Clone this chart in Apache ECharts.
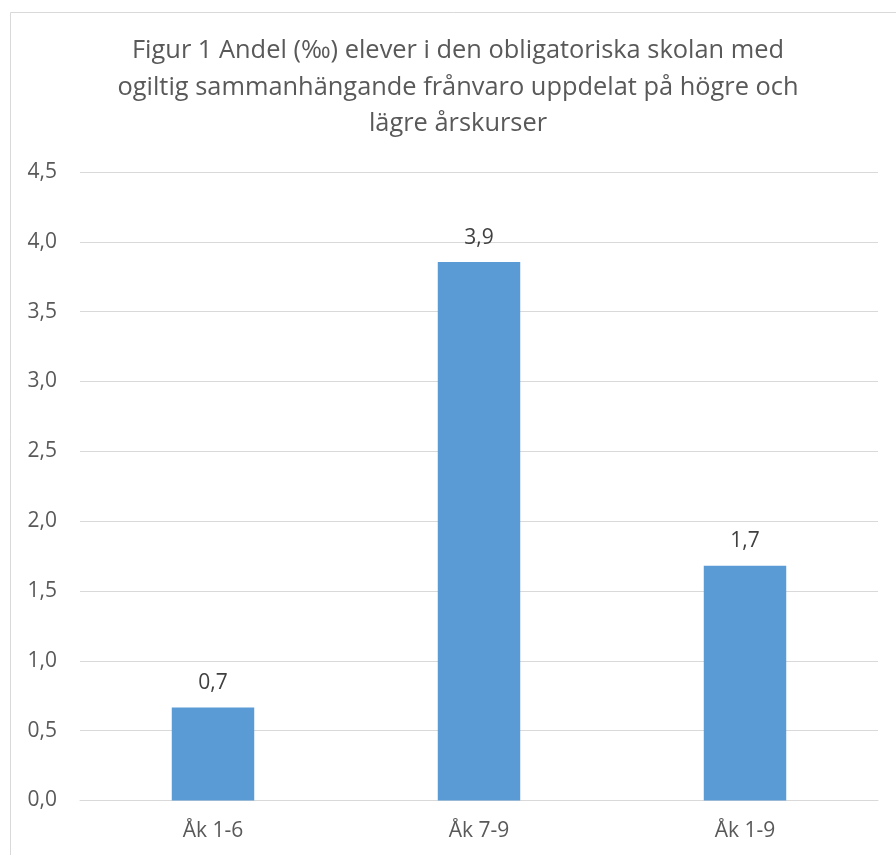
<!DOCTYPE html>
<html>
<head>
<meta charset="utf-8">
<script src="https://cdn.jsdelivr.net/npm/echarts@6/dist/echarts.min.js"></script>
<style>
html,body{margin:0;padding:0;background:#fff;}
#c{width:896px;height:855px;}
</style>
</head>
<body>
<div id="c"></div>
<script>
const titleText = "Figur 1 Andel (‰) elever i den obligatoriska skolan med\nogiltig sammanhängande frånvaro uppdelat på högre och\nlägre årskurser";
const categories = ["Åk 1-6", "Åk 7-9", "Åk 1-9"];
const values = [0.665, 3.855, 1.68];
const yTicks = {min: 0, max: 4.5, interval: 0.5};

const chart = echarts.init(document.getElementById('c'));
const fmt = v => v.toFixed(1).replace('.', ',');
chart.setOption({
  animation: false,
  backgroundColor: '#fff',
  title: {
    text: titleText,
    left: 453,
    textAlign: 'center',
    top: 28,
    textStyle: {
      fontFamily: 'Open Sans',
      fontSize: 25.4,
      fontWeight: 'normal',
      color: '#595959',
      lineHeight: 36.5
    }
  },
  graphic: [{
    type: 'rect',
    shape: {x: 10.5, y: 12.5, width: 1000, height: 1000},
    style: {fill: 'none', stroke: '#D9D9D9', lineWidth: 1},
    silent: true
  }],
  grid: {left: 80, right: 18, top: 172, bottom: 54.5},
  xAxis: {
    type: 'category',
    data: categories,
    axisLine: {lineStyle: {color: '#D9D9D9', width: 1}},
    axisTick: {show: false},
    axisLabel: {color: '#595959', fontFamily: 'Open Sans', fontSize: 21, margin: 20}
  },
  yAxis: {
    type: 'value',
    min: yTicks.min, max: yTicks.max, interval: yTicks.interval,
    axisLine: {show: false},
    axisTick: {show: false},
    splitLine: {lineStyle: {color: '#D9D9D9', width: 1}},
    axisLabel: {color: '#595959', fontFamily: 'Open Sans', fontSize: 21, margin: 23, formatter: fmt}
  },
  series: [{
    type: 'bar',
    data: values,
    barWidth: '31%',
    itemStyle: {color: '#5B9BD5'},
    label: {
      show: true,
      position: 'top',
      distance: 14,
      color: '#404040',
      fontFamily: 'Open Sans',
      fontSize: 21,
      formatter: p => fmt(p.value)
    }
  }]
});
</script>
</body>
</html>
